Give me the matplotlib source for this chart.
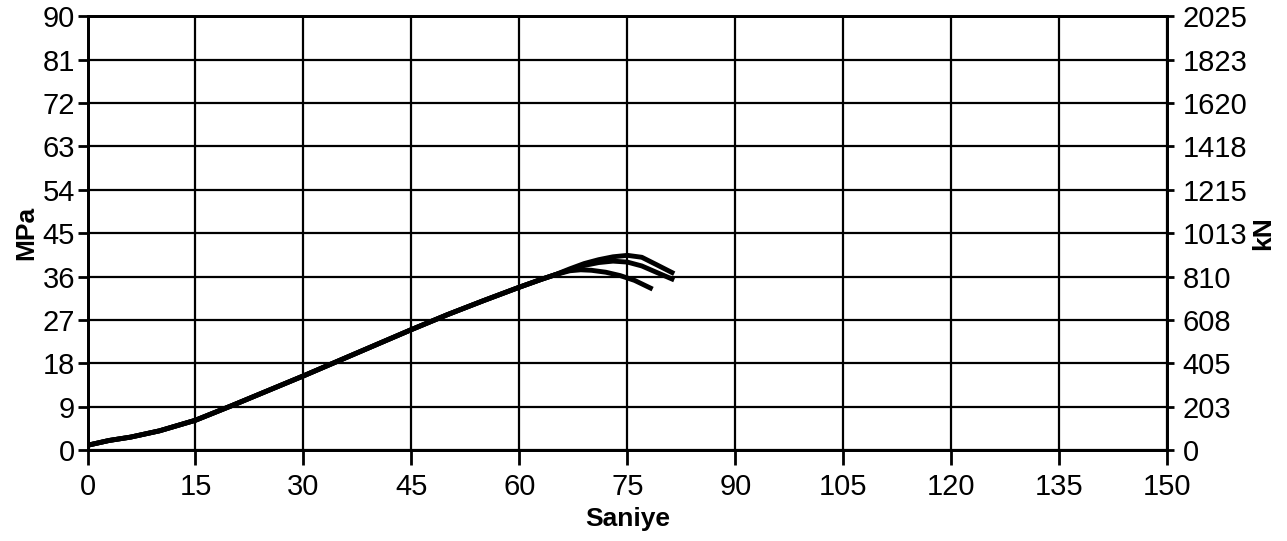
import matplotlib.pyplot as plt
import numpy as np

plt.rcParams['font.family'] = ['Liberation Sans', 'DejaVu Sans']

# shared rising part of the test curves (seconds, MPa)
base_t = [0, 3, 6, 10, 15, 20, 25, 30, 35, 40, 45, 50, 55, 60, 63, 65]
base_p = [1.0, 2.0, 2.7, 4.0, 6.2, 9.2, 12.3, 15.4, 18.6, 21.8, 25.0, 28.1, 31.0, 33.8, 35.4, 36.4]

# separate tails after the peak
tail_a_t = [67, 69, 71, 73, 75, 77, 79, 81.5]
tail_a_p = [37.6, 38.7, 39.5, 40.1, 40.4, 40.0, 38.5, 36.6]
tail_b_t = [67, 69, 71, 73, 75, 77, 79, 81.5]
tail_b_p = [37.4, 38.3, 38.9, 39.2, 39.0, 38.2, 36.9, 35.3]
tail_c_t = [67, 68.5, 70, 72, 74, 76, 78.5]
tail_c_p = [37.2, 37.4, 37.3, 36.9, 36.2, 35.2, 33.4]

x_ticks = np.arange(0, 151, 15)
y_ticks = np.arange(0, 91, 9)
kn_labels = ['0', '203', '405', '608', '810', '1013', '1215', '1418', '1620', '1823', '2025']

fig = plt.figure(figsize=(12.87, 5.41), dpi=100)
ax = fig.add_axes([0.068, 0.168, 0.839, 0.802])

for tt, pp in [(tail_a_t, tail_a_p), (tail_b_t, tail_b_p), (tail_c_t, tail_c_p)]:
    ax.plot(base_t + tt, base_p + pp, color='black', lw=3.5, solid_capstyle='butt')

ax.set_xlim(0, 150)
ax.set_ylim(0, 90)
ax.set_xticks(x_ticks)
ax.set_yticks(y_ticks)
ax.grid(True, color='black', lw=1.6)
for s in ax.spines.values():
    s.set_linewidth(2)
ax.tick_params(axis='both', labelsize=21, width=2, length=7, color='black', pad=2)
ax.tick_params(axis='x', length=11, pad=5.5)
ax.set_xlabel('Saniye', fontsize=19, fontweight='bold')
ax.xaxis.set_label_coords(0.5, -0.131)
ax.set_ylabel('MPa', fontsize=19, fontweight='bold')
ax.yaxis.set_label_coords(-0.046, 0.5)

ax2 = ax.twinx()
ax2.set_ylim(0, 90)
ax2.set_yticks(y_ticks)
ax2.set_yticklabels(kn_labels)
ax2.tick_params(axis='y', labelsize=21, width=2, length=5, pad=6)
ax2.set_ylabel('kN', fontsize=19, fontweight='bold')
ax2.yaxis.set_label_coords(1.078, 0.5)
for s in ax2.spines.values():
    s.set_linewidth(2)

fig.savefig('out.png', dpi=100)
